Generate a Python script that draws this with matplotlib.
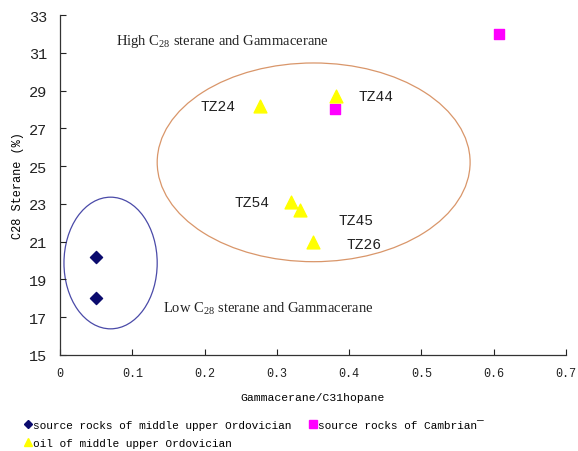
import matplotlib
matplotlib.use("Agg")
import matplotlib.pyplot as plt
from matplotlib.patches import Ellipse
from matplotlib.lines import Line2D

# Source rocks of middle-upper Ordovician
ord_src_x = [0.05, 0.05]
ord_src_y = [20.2, 18.0]

# Source rocks of Cambrian
cam_src_x = [0.607, 0.38]
cam_src_y = [32.0, 28.0]

# Oils of middle-upper Ordovician
oil_names = ["TZ24", "TZ44", "TZ54", "TZ45", "TZ26"]
oil_x = [0.277, 0.382, 0.320, 0.332, 0.350]
oil_y = [28.2, 28.7, 23.1, 22.7, 21.0]

x_ticks = [0, 0.1, 0.2, 0.3, 0.4, 0.5, 0.6, 0.7]
x_tick_labels = ["0", "0.1", "0.2", "0.3", "0.4", "0.5", "0.6", "0.7"]
y_ticks = [15, 17, 19, 21, 23, 25, 27, 29, 31, 33]

mono = "Liberation Mono"
serif = "Liberation Serif"

plt.rcParams["mathtext.fontset"] = "custom"
plt.rcParams["mathtext.rm"] = serif
plt.rcParams["mathtext.it"] = serif + ":italic"

fig = plt.figure(figsize=(5.78, 4.52), dpi=100)
ax = fig.add_axes([0.1038, 0.2124, 0.8752, 0.7522])

ax.set_xlim(0, 0.7)
ax.set_ylim(15, 33)
ax.set_xticks(x_ticks)
ax.set_xticklabels(x_tick_labels)
ax.set_yticks(y_ticks)
for lab in ax.get_xticklabels() + ax.get_yticklabels():
    lab.set_fontfamily(mono)
ax.tick_params(axis="x", direction="in", length=4, labelsize=8.5, pad=9, colors="#222222")
ax.tick_params(axis="y", direction="in", length=4, labelsize=11, pad=9, colors="#222222")
ax.spines["top"].set_visible(False)
ax.spines["right"].set_visible(False)
for s in ("left", "bottom"):
    ax.spines[s].set_color("#333333")
    ax.spines[s].set_linewidth(0.9)

ax.set_xlabel("Gammacerane/C31hopane", fontfamily=mono, fontsize=8.2, labelpad=9)
ax.set_ylabel("C28 Sterane (%)", fontfamily=mono, fontsize=8.6, labelpad=4)

# Group outlines
ax.add_patch(Ellipse((0.07, 19.87), 0.129, 6.97, fill=False,
                     edgecolor="#4a4aa8", linewidth=0.9))
ax.add_patch(Ellipse((0.351, 25.2), 0.433, 10.52, fill=False,
                     edgecolor="#d9966a", linewidth=0.9))

ax.scatter(ord_src_x, ord_src_y, marker="D", s=38, color="#0b0b6e", zorder=3)
ax.scatter(cam_src_x, cam_src_y, marker="s", s=60, color="#ff00ff", zorder=3)
ax.scatter(oil_x, oil_y, marker="^", s=85, color="#ffff00", zorder=4)

label_offsets = {
    "TZ24": (-0.083, 0.0),
    "TZ44": (0.031, 0.0),
    "TZ54": (-0.079, 0.0),
    "TZ45": (0.053, -0.55),
    "TZ26": (0.047, -0.15),
}
for name, x, y in zip(oil_names, oil_x, oil_y):
    dx, dy = label_offsets[name]
    ax.text(x + dx, y + dy, name, fontfamily=mono, fontsize=10.5,
            va="center", ha="left", color="#222222")

ax.text(0.078, 31.65, "High C$_{28}$ sterane and Gammacerane", fontfamily=serif,
        fontsize=10.5, va="center", ha="left", color="#222222")
ax.text(0.142, 17.5, "Low C$_{28}$ sterane and Gammacerane", fontfamily=serif,
        fontsize=10.5, va="center", ha="left", color="#222222")

handles = [
    Line2D([], [], linestyle="none", marker="D", markersize=4, color="#0b0b6e"),
    Line2D([], [], linestyle="none", marker="^", markersize=6, color="#ffff00"),
    Line2D([], [], linestyle="none", marker="s", markersize=6, color="#ff00ff"),
]
labels = [
    "source rocks of middle upper Ordovician",
    "oil of middle upper Ordovician",
    "source rocks of Cambrian¯",
]
fig.legend(handles, labels, ncol=2, loc="upper left", bbox_to_anchor=(0.0415, 0.069),
           frameon=False, prop={"family": mono, "size": 8.0},
           handlelength=0.7, handletextpad=0.1, columnspacing=1.65,
           labelspacing=0.72, borderaxespad=0.0, borderpad=0.0)

fig.savefig("out.png", dpi=100)
